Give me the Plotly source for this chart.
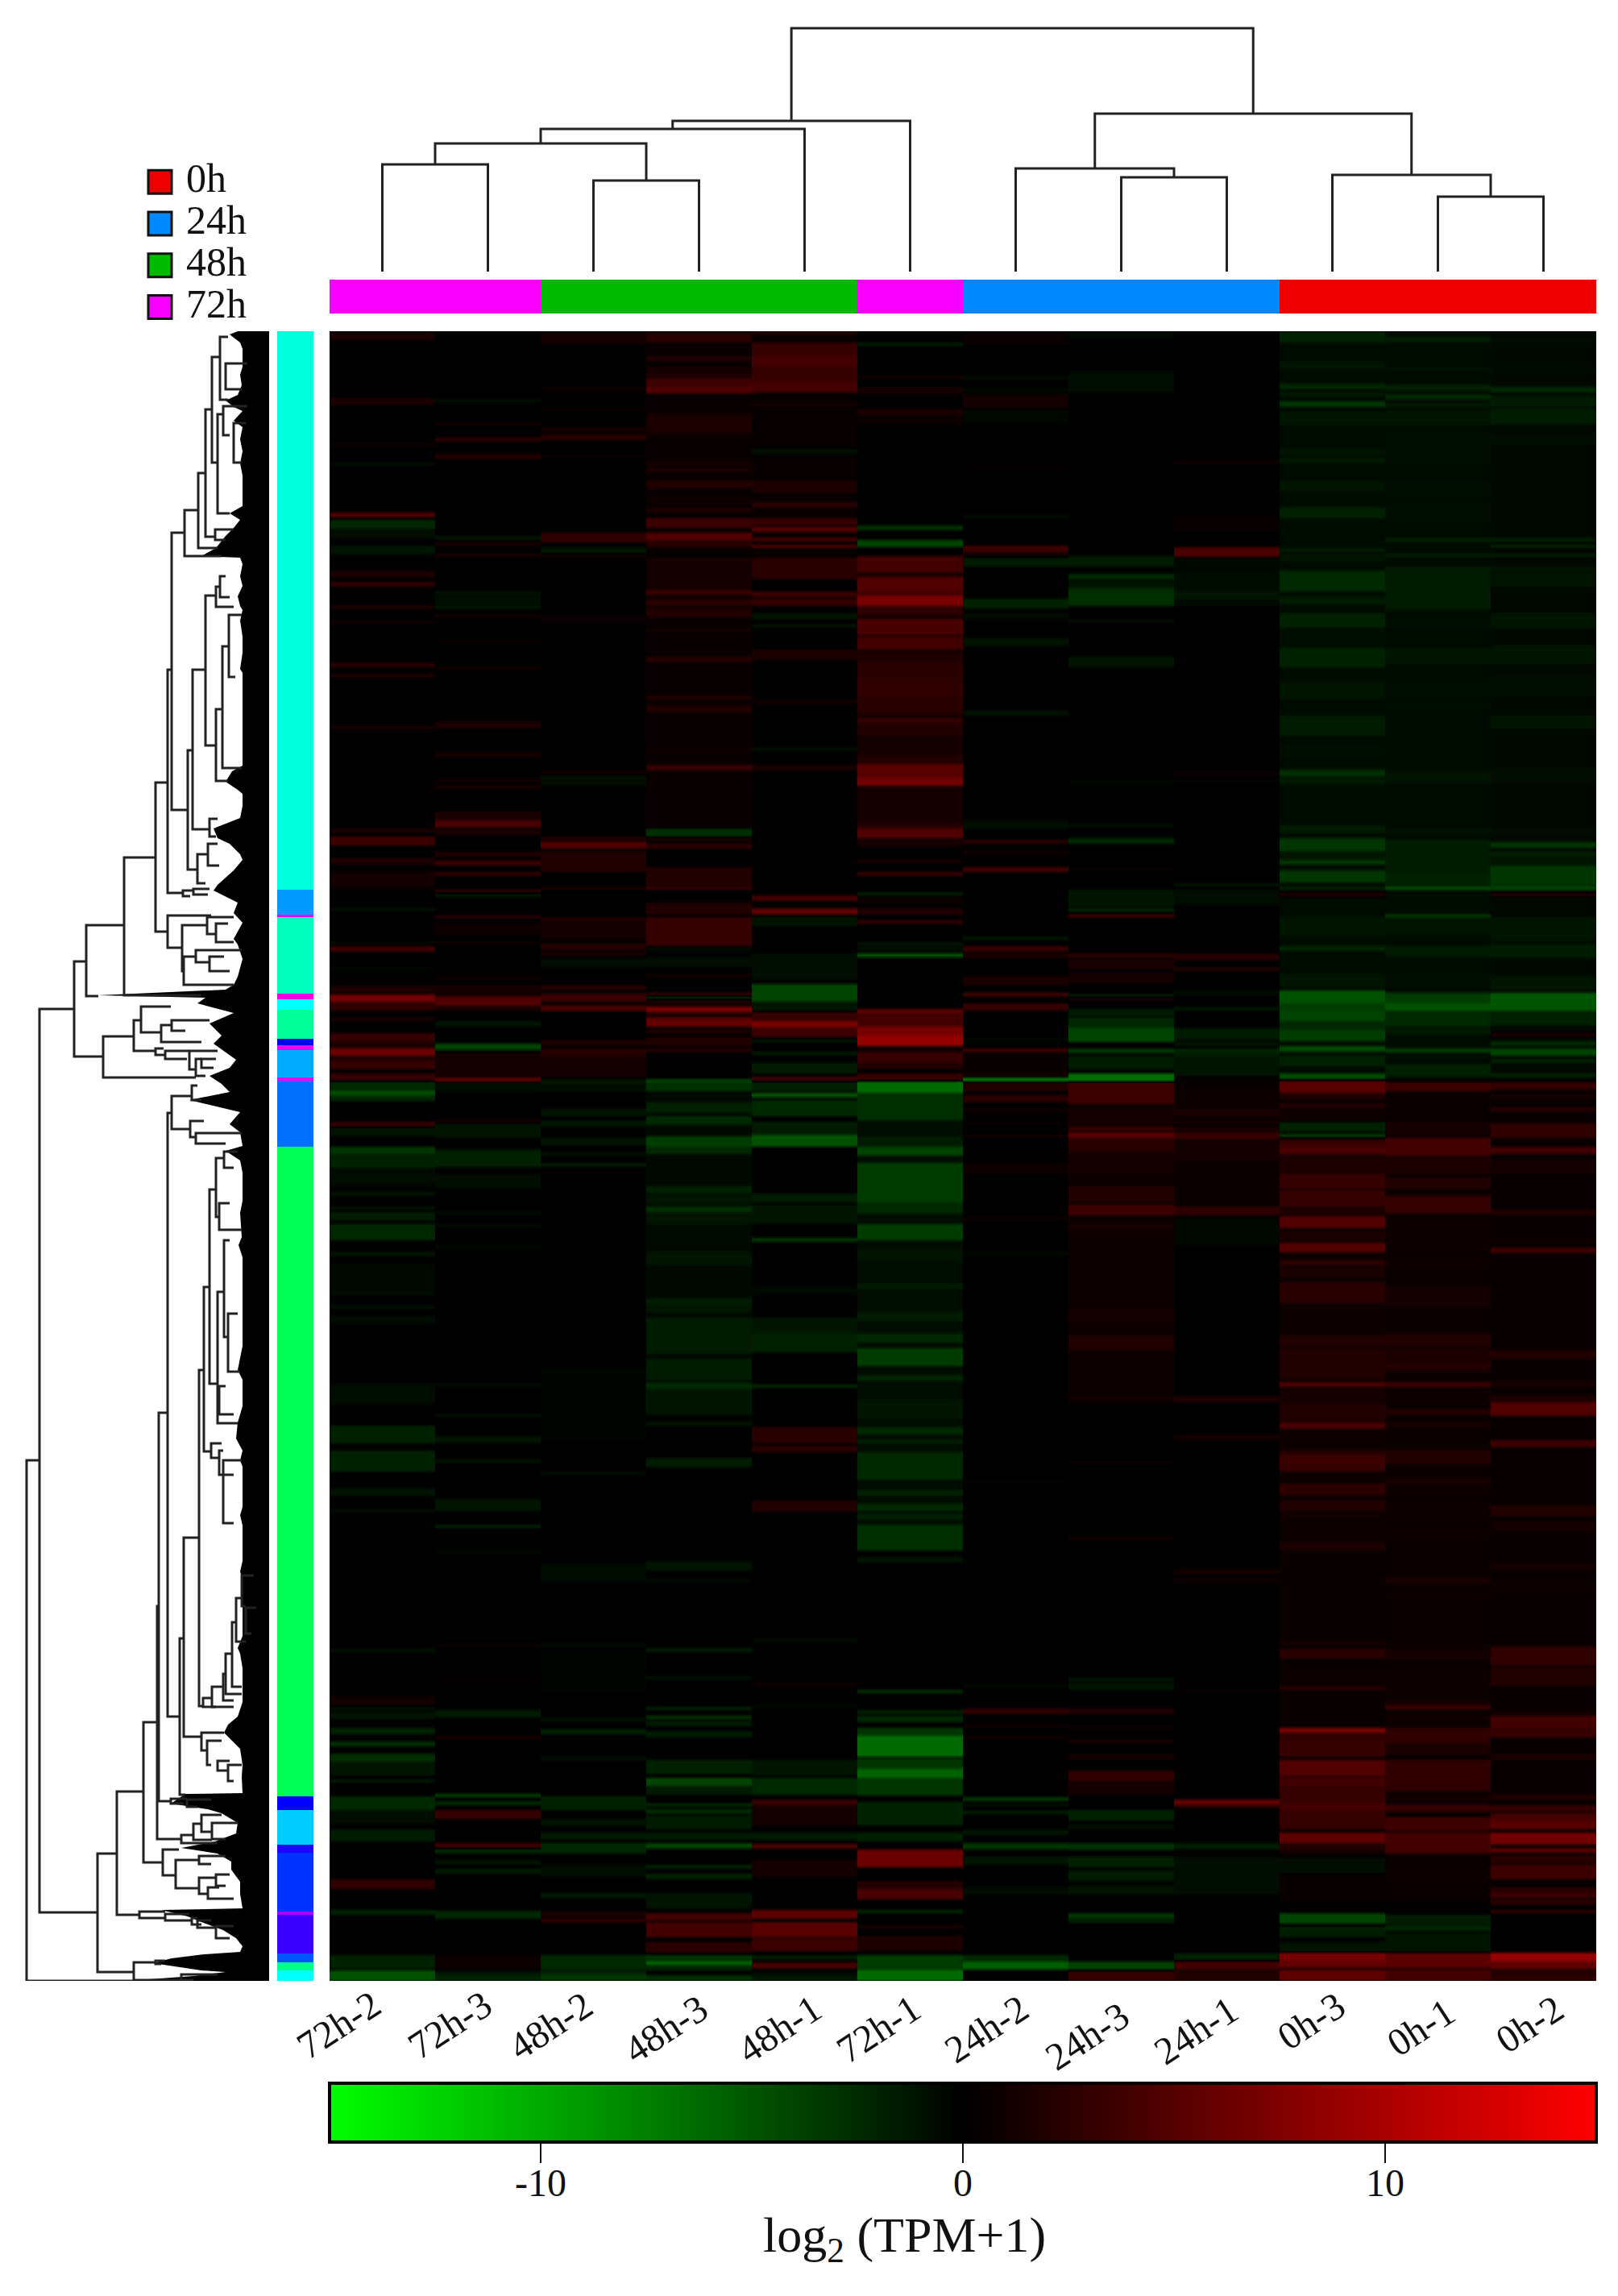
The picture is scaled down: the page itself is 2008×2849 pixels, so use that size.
"""Clustered expression heatmap: sample and gene dendrograms, group bars, log2(TPM+1) colour key."""
import numpy as np
import plotly.graph_objects as go

W, H = 2008, 2849
PAGE_MARGIN = 8  # the browser's default body margin around the plot div
FIG_W, FIG_H = W - 2 * PAGE_MARGIN, H - 2 * PAGE_MARGIN
FONT = "Liberation Serif"
VALUE_CALIBRATION = 0.78  # band values were read by eye and ran high against the colour key
LEAF_TIP_X = 301  # thin white gaps between leaves close up beyond this x

COLUMNS = ["72h-2", "72h-3", "48h-2", "48h-3", "48h-1", "72h-1",
           "24h-2", "24h-3", "24h-1", "0h-3", "0h-1", "0h-2"]
GROUP_LABELS = ["0h", "24h", "48h", "72h"]
GROUP_COLORS = ["#EE0000", "#0088FF", "#00BB00", "#F800FF"]
COLUMN_GROUP = [3, 3, 2, 2, 2, 3, 1, 1, 1, 0, 0, 0]

# label centres, they do not sit evenly under the columns
LABEL_X = [420, 558, 683, 826, 967, 1090, 1224, 1349, 1484, 1627, 1763, 1898]
LABEL_Y = [2512, 2512, 2513, 2517, 2517, 2517, 2517, 2526, 2519, 2507, 2515, 2511]
KEY_TICKS = [-10, 0, 10]
KEY_TICK_TEXT = ["-10", "0", "10"]

# sample tree: (height, left pos, left height, right pos, right height)
SAMPLE_TREE = [
    (133, 0.5, 0, 1.5, 0), (113, 2.5, 0, 3.5, 0), (159, 1, 133, 3, 113),
    (177, 2, 159, 4.5, 0), (187, 3.25, 177, 5.5, 0),
    (117, 7.5, 0, 8.5, 0), (128, 6.5, 0, 8, 117),
    (93, 10.5, 0, 11.5, 0), (120, 9.5, 0, 11, 93),
    (196, 7.25, 128, 10.25, 120), (302, 4.375, 187, 8.75, 196),
]

# gene tree: (x, top row, top child x, bottom row, bottom child x)
GENE_TREE = [
    (33, 1812, 49, 2458, 166), (49, 1252, 92, 2373, 121), (92, 1193, 107, 1311, 128),
    (107, 1148, 154, 1236, 122), (154, 1064, 193, 1235, 250), (193, 971, 208, 1156, 208),
    (208, 831, 213, 1108, 227), (213, 661, 229, 1005, 233), (229, 633, 246, 690, 275),
    (246, 587, 255, 680, 270), (255, 508, 263, 666, 267), (263, 443, 273, 574, 270),
    (273, 418, 283, 496, 283), (280, 451, 307, 483, 300), (270, 514, 277, 637, 285),
    (277, 504, 307, 540, 285), (290, 525, 305, 574, 300), (267, 657, 290, 670, 280),
    (233, 931, 239, 1079, 245), (239, 831, 255, 1029, 260), (255, 739, 268, 925, 268),
    (268, 728, 273, 753, 290), (273, 715, 280, 741, 285), (268, 880, 276, 969, 283),
    (276, 802, 285, 953, 300), (284, 763, 300, 840, 292), (260, 1016, 270, 1038, 268),
    (245, 1060, 258, 1096, 255), (258, 1047, 270, 1074, 272),
    (208, 1136, 262, 1176, 226), (226, 1148, 257, 1205, 228), (228, 1187, 243, 1222, 290),
    (243, 1179, 300, 1194, 260), (260, 1187, 278, 1205, 285), (257, 1138, 290, 1159, 268),
    (268, 1146, 283, 1169, 290), (227, 1105, 240, 1112, 236), (240, 1103, 260, 1110, 258),
    (128, 1286, 166, 1337, 243), (166, 1266, 175, 1304, 193), (175, 1249, 212, 1281, 200),
    (200, 1272, 213, 1293, 250), (213, 1266, 260, 1279, 230), (193, 1301, 203, 1309, 205),
    (205, 1304, 235, 1314, 232), (235, 1304, 270, 1327, 243), (243, 1314, 250, 1335, 255),
    (250, 1314, 268, 1325, 265),
    (121, 2300, 145, 2447, 166), (145, 2223, 178, 2376, 173), (178, 2137, 195, 2311, 202),
    (195, 1993, 197, 2282, 225), (197, 1753, 208, 2235, 212), (208, 1381, 213, 2130, 223),
    (213, 1360, 238, 1401, 236), (238, 1347, 245, 1365, 250), (236, 1391, 253, 1411, 243),
    (243, 1406, 300, 1419, 280), (223, 2033, 228, 2227, 230), (228, 1908, 247, 2155, 250),
    (247, 1700, 253, 2117, 252), (253, 1597, 260, 1801, 262), (260, 1476, 268, 1717, 270),
    (268, 1437, 278, 1510, 272), (278, 1429, 295, 1449, 290), (272, 1493, 285, 1526, 300),
    (270, 1603, 278, 1766, 295), (278, 1539, 285, 1659, 283), (283, 1630, 295, 1702, 298),
    (272, 1720, 280, 1755, 290), (262, 1791, 275, 1809, 272), (272, 1800, 277, 1830, 290),
    (277, 1812, 300, 1890, 290),
    (252, 2107, 263, 2118, 268), (263, 2093, 277, 2118, 290), (277, 2077, 280, 2110, 290),
    (280, 2052, 288, 2102, 300), (288, 2013, 293, 2093, 300), (293, 1983, 300, 2037, 305),
    (300, 1955, 315, 1993, 305), (305, 1995, 318, 2027, 312),
    (250, 2150, 278, 2172, 257), (257, 2160, 275, 2190, 262), (270, 2185, 285, 2197, 283),
    (283, 2190, 300, 2210, 290), (212, 2232, 232, 2238, 228), (232, 2233, 262, 2242, 245),
    (202, 2295, 222, 2327, 218), (218, 2308, 247, 2343, 247), (247, 2303, 280, 2313, 262),
    (247, 2330, 268, 2350, 258), (268, 2326, 285, 2340, 280), (258, 2342, 272, 2356, 290),
    (225, 2277, 240, 2287, 270), (240, 2263, 250, 2283, 263), (250, 2252, 275, 2273, 263),
    (263, 2262, 295, 2282, 280), (173, 2372, 205, 2380, 205), (205, 2375, 235, 2383, 238),
    (238, 2380, 245, 2388, 250), (245, 2383, 262, 2392, 268), (268, 2390, 290, 2405, 285),
    (166, 2435, 193, 2457, 225), (193, 2433, 205, 2437, 200), (225, 2450, 270, 2457, 240),
]

# left edge of the solid black mass of gene tree leaves: (row, x)
LEAF_EDGE = [
    (411, 295), (415, 285), (425, 298), (433, 303), (445, 306), (455, 303), (465, 298), (478, 300),
    (490, 295), (497, 280), (505, 290), (510, 302), (522, 290), (530, 305), (545, 298), (560, 303),
    (575, 298), (590, 308), (600, 303), (615, 306), (628, 305), (637, 285), (645, 298), (655, 290),
    (665, 280), (680, 268), (690, 250), (692, 298), (700, 303), (715, 298), (727, 303), (740, 295),
    (752, 298), (757, 306), (770, 298), (790, 308), (810, 303), (830, 298), (835, 306), (860, 308),
    (880, 303), (900, 303), (920, 306), (940, 308), (950, 305), (957, 288), (970, 280), (980, 295),
    (985, 308), (1000, 308), (1015, 298), (1028, 265), (1040, 270), (1047, 285), (1060, 298),
    (1067, 303), (1080, 290), (1098, 270), (1105, 265), (1120, 295), (1133, 290), (1145, 308),
    (1165, 290), (1172, 295), (1190, 303), (1212, 295), (1222, 290), (1228, 280), (1235, 122),
    (1238, 255), (1245, 245), (1257, 290), (1270, 260), (1285, 275), (1295, 265), (1315, 293),
    (1325, 285), (1335, 260), (1345, 275), (1355, 285), (1365, 235), (1380, 298), (1395, 285),
    (1405, 298), (1422, 302), (1428, 280), (1440, 298), (1455, 303), (1470, 306), (1490, 305),
    (1505, 298), (1535, 300), (1545, 296), (1560, 306), (1575, 306), (1600, 305), (1620, 304),
    (1650, 305), (1670, 305), (1700, 295), (1712, 305), (1730, 305), (1745, 308), (1765, 295),
    (1785, 293), (1800, 303), (1812, 298), (1820, 303), (1845, 305), (1870, 304), (1880, 298),
    (1893, 302), (1913, 302), (1925, 308), (1937, 302), (1950, 298), (1960, 305), (1980, 306),
    (2005, 308), (2017, 310), (2030, 303), (2045, 295), (2052, 298), (2070, 304), (2077, 303),
    (2090, 303), (2100, 304), (2112, 303), (2130, 295), (2140, 283), (2150, 278), (2170, 298),
    (2190, 304), (2205, 300), (2225, 303), (2226, 230), (2238, 212), (2245, 258), (2250, 275),
    (2262, 295), (2275, 293), (2285, 267), (2293, 225), (2300, 270), (2310, 287), (2320, 287),
    (2335, 298), (2350, 298), (2368, 304), (2370, 200), (2378, 233), (2385, 250), (2395, 277),
    (2405, 293), (2415, 304), (2422, 298), (2425, 253), (2430, 213), (2436, 190), (2445, 250),
    (2447, 280), (2452, 240), (2457, 170), (2458, 166),
]

# gene cluster colour bar, top to bottom
CLUSTER_ROW_EDGES = [411, 1104, 1135, 1138, 1233, 1240, 1253, 1289, 1297, 1303, 1337, 1341, 1423,
                     2229, 2246, 2289, 2299, 2372, 2376, 2424, 2435, 2445, 2458]
CLUSTER_COLORS = ["#00FFDD", "#0099FF", "#F000F0", "#00FFBB", "#F000E0", "#00FFFF", "#00FF99",
                  "#0000FF", "#F000F0", "#00AAFF", "#F000F0", "#0070FF", "#00FF55", "#0000FF",
                  "#00CCFF", "#2000FF", "#0033FF", "#AA00FF", "#3A00FF", "#0055FF", "#00FF88",
                  "#00FFFF"]

# heatmap bands per column: (first rank, last rank, log2 value); later bands overwrite earlier
BANDS_72H_2 = [
    (2, 11, 2), (83, 92, 2), (140, 143, 1.5), (164, 166, -1.5), (225, 231, 6), (234, 245, -3),
    (245, 257, -1), (266, 277, -1.5), (297, 306, 2), (311, 317, 3.5), (341, 344, 3), (360, 362, 2),
    (412, 417, 3.5), (425, 429, 2.5), (489, 495, 1.5), (618, 621, 3), (627, 638, 4.5), (653, 662, 2),
    (671, 688, 1.5), (689, 693, 1), (716, 719, -1.5), (758, 760, -1.5), (763, 770, 4.5), (790, 792, -1),
    (812, 821, 2), (823, 832, 8.5), (832, 843, 3.5), (852, 855, 2.5), (871, 881, 4), (881, 890, 2),
    (890, 899, 8), (899, 905, 2), (905, 916, 4), (921, 930, 4), (931, 943, -3), (943, 948, -6),
    (948, 955, -3), (981, 987, 4), (988, 999, -1.5), (1012, 1021, -4), (1021, 1039, -2.5),
    (1041, 1059, -1), (1068, 1073, -1.5), (1086, 1090, -1.5), (1093, 1104, -2), (1108, 1128, -3),
    (1142, 1148, -1.5), (1157, 1193, -0.7), (1193, 1195, -1.5), (1209, 1213, -1.5), (1222, 1231, -1),
    (1307, 1331, -1), (1358, 1380, -2.5), (1389, 1415, -2.5), (1436, 1445, -1.5), (1462, 1465, -1.5),
    (1635, 1639, -1.5), (1694, 1705, 1.5), (1707, 1711, -1.5), (1713, 1722, -1.5), (1733, 1741, -2.5),
    (1750, 1756, -3.5), (1765, 1775, -3.5), (1775, 1792, -1.5), (1797, 1801, -2), (1818, 1835, -3),
    (1835, 1852, -1), (1859, 1874, -2), (1921, 1933, 3.5), (1959, 1965, -2.5), (2015, 2032, -2.5),
    (2034, 2047, -6),
]
BANDS_72H_3 = [
    (85, 88, -1.5), (114, 117, 2), (132, 137, 3), (152, 159, 2.5), (255, 258, -2.5), (261, 266, 1.5),
    (277, 279, 4), (323, 326, -2), (328, 341, -1), (342, 344, -3), (352, 355, 2), (384, 386, 1.5),
    (417, 419, 2), (484, 493, 2), (522, 529, 1.5), (556, 560, 1.5), (564, 568, 2), (596, 607, 2),
    (607, 616, 5.5), (618, 625, 2), (645, 653, 2), (657, 663, 4.5), (671, 676, 3.5),
    (693, 696, 4), (698, 702, -2), (725, 729, 3), (734, 749, 1), (758, 760, 2), (800, 805, 1),
    (812, 823, 1.5), (825, 837, 6), (837, 843, 2), (856, 863, -1.5), (884, 892, -5), (896, 925, 1.5),
    (926, 931, 7), (932, 943, -1), (979, 981, 3), (983, 1001, -1.5), (1015, 1019, -2), (1019, 1037, -2.5),
    (1046, 1064, -1), (1093, 1095, -1.5), (1108, 1112, -1), (1135, 1137, -1.5), (1307, 1309, -1.5),
    (1344, 1347, -1.5), (1371, 1380, -1.5), (1400, 1404, -1.5), (1449, 1464, -1.5), (1481, 1485, -2.5),
    (1514, 1516, -1), (1628, 1632, 1), (1670, 1672, 1), (1711, 1720, -2), (1743, 1748, 1.5),
    (1815, 1819, -5), (1824, 1829, -3), (1835, 1846, 4), (1876, 1882, 4.5), (1883, 1889, -3),
    (1897, 1903, -1.5), (1908, 1914, -2), (1960, 1970, -3), (2015, 2032, 1), (2036, 2042, -2),
    (2042, 2047, -3),
]
BANDS_48H_2 = [
    (2, 16, 1.5), (69, 74, 1), (96, 98, 1.5), (119, 125, 1.5), (128, 135, 3), (154, 156, 1.5),
    (250, 262, 3.5), (268, 277, -1.5), (277, 279, 3.5), (355, 359, 1.5), (546, 549, 2), (551, 564, -1),
    (627, 631, 2.5), (633, 642, 6), (645, 671, 2.5), (689, 693, 2), (727, 734, 2), (734, 756, 1.5),
    (760, 767, 3), (768, 776, 1.5), (778, 789, -1), (812, 818, 3), (822, 832, 4.5), (836, 844, 5),
    (879, 887, 2), (890, 899, 3), (899, 925, 1.5), (928, 937, -1.5), (939, 943, -1.5), (965, 974, -1.5),
    (979, 988, -1.5), (1001, 1010, -1.5), (1019, 1023, -1.5), (1032, 1037, -2), (1287, 1376, -0.4),
    (1415, 1419, -1), (1530, 1551, -0.8), (1628, 1632, -1), (1637, 1688, -0.4), (1720, 1726, -1),
    (1735, 1741, -2.5), (1769, 1773, -1.5), (1818, 1835, -2.5), (1846, 1854, -1.5), (1863, 1872, -2),
    (1876, 1889, -3), (1903, 1918, -1), (1938, 1944, -2), (1961, 1968, 2), (1970, 1974, 4),
    (2015, 2032, -3), (2032, 2038, -2), (2038, 2047, -4),
]
BANDS_48H_3 = [
    (0, 620, 0.6), (930, 1300, -0.7),
    (2, 14, 3), (31, 37, 2.5), (45, 49, 2), (51, 56, 2.5), (58, 69, 4.5), (69, 77, 6), (103, 127, 2),
    (163, 167, 2), (170, 174, 2.5), (185, 195, 2.5), (208, 212, 1.5), (219, 224, 2.5), (232, 244, 4.5),
    (250, 259, 6), (259, 268, 3), (278, 280, -3), (279, 323, 1.5), (321, 328, 4), (332, 341, 3),
    (343, 355, 2.5), (369, 372, 2), (404, 410, 3), (453, 457, 3), (464, 473, 2.5), (518, 521, 1.5),
    (538, 545, 4), (564, 566, 1.5), (617, 627, -3.5), (629, 633, 2), (636, 642, 3.5), (665, 688, 2.5),
    (689, 693, 4.5), (709, 724, 2.5), (727, 763, 4), (765, 769, -1), (776, 789, -1), (798, 801, 2),
    (821, 824, 5), (825, 830, -3), (829, 836, 2), (838, 845, 9), (845, 852, 2), (852, 863, 7.5),
    (865, 872, 2), (876, 887, 2.5), (890, 894, 3), (928, 932, -5), (932, 943, -3.5), (957, 970, -2.5),
    (974, 985, -3), (999, 1012, -4.5), (1012, 1021, -3), (1061, 1070, -2.5), (1072, 1083, -1.5),
    (1086, 1093, -3.5), (1093, 1108, -1.5), (1117, 1128, -0.8), (1142, 1159, -1.5), (1200, 1211, -2),
    (1213, 1217, -2), (1224, 1269, -2), (1275, 1302, -2), (1304, 1313, -3), (1313, 1345, -1.5),
    (1353, 1358, -1.5), (1398, 1410, -2), (1526, 1538, -1.5), (1549, 1551, -1.5), (1634, 1639, -2),
    (1669, 1673, -1.5), (1707, 1711, -2.5), (1718, 1722, -4), (1724, 1731, -2), (1737, 1745, -2),
    (1773, 1790, -2.5), (1795, 1805, -5), (1805, 1816, -2), (1827, 1830, -4), (1833, 1840, -3),
    (1842, 1859, -2), (1863, 1872, -2), (1876, 1883, -5), (1903, 1908, -2.5), (1914, 1921, -2.5),
    (1938, 1957, -1.5), (1963, 1972, 5), (1974, 1993, 5), (1999, 2012, 3), (2015, 2021, -4),
    (2022, 2027, -7.5), (2027, 2034, -3), (2040, 2047, -3.5),
]
BANDS_48H_1 = [
    (0, 280, 0.5),
    (0, 4, 3), (14, 31, 4), (31, 43, 5), (43, 63, 4), (63, 76, 5), (89, 94, 1.5), (145, 154, -1),
    (185, 201, 2), (212, 219, 3), (232, 241, 4), (243, 249, 6.5), (256, 261, 5), (265, 269, 6),
    (281, 308, 3), (323, 330, 4.5), (332, 341, 4), (350, 357, -1.5), (364, 367, -2), (395, 408, 2),
    (457, 462, 1.5), (517, 520, -1.5), (538, 545, 2), (700, 707, 5), (716, 724, 7), (727, 730, -2),
    (731, 738, -1.5), (772, 805, -1), (810, 832, -5), (832, 844, -1.5), (845, 856, 4), (856, 864, 9),
    (864, 876, 4.5), (879, 882, -2), (894, 898, -2), (908, 921, -2), (925, 930, 5), (932, 943, -2.5),
    (945, 951, -6), (954, 974, -3), (981, 997, -2), (997, 1012, -6), (1070, 1081, -2), (1084, 1108, -1.5),
    (1125, 1130, -4), (1186, 1195, -0.8), (1224, 1244, -1.5), (1244, 1267, -2.5), (1307, 1311, -3),
    (1360, 1380, 3), (1383, 1391, 3), (1451, 1465, 2.5), (1622, 1626, -1), (1677, 1680, 1.5),
    (1705, 1707, -1.5), (1773, 1792, -1.5), (1795, 1816, -3), (1822, 1829, 4), (1829, 1854, 1.5),
    (1863, 1872, -2), (1877, 1883, 5.5), (1897, 1918, 1.5), (1959, 1970, 7), (1974, 1993, 6.5),
    (1994, 2010, 4.5), (2015, 2021, -2), (2024, 2032, 5), (2036, 2042, -1), (2042, 2047, -2),
]
BANDS_72H_1 = [
    (279, 640, 1.5), (930, 1500, -1),
    (14, 18, -2), (56, 59, 2), (69, 78, 1.5), (96, 105, 2), (107, 116, 1), (241, 247, -3.5), (259, 268, -5),
    (279, 299, 5), (299, 305, 2), (305, 323, 6), (323, 328, 4.5), (328, 341, 9), (341, 352, 3.5),
    (357, 377, 5.5), (379, 395, 5), (399, 408, 2.5), (410, 431, 3), (431, 455, 3.5), (455, 475, 3),
    (480, 486, 4), (486, 502, 2.5), (507, 522, 1.5), (526, 537, 2.5), (537, 554, 6.5), (554, 564, 8.5),
    (611, 616, 3), (617, 629, 6), (656, 660, 2), (671, 676, 4), (696, 701, -2), (702, 711, 1),
    (716, 724, 2.5), (730, 736, 3), (758, 763, -1.5), (765, 769, -1.5), (772, 777, -6), (841, 846, 7),
    (846, 863, 5), (863, 874, 9), (874, 887, 11), (887, 894, 1), (894, 908, 4), (908, 916, 2.5),
    (921, 930, 4), (931, 945, -8), (945, 957, -3.5), (957, 979, -3.5), (999, 1012, -2), (1012, 1023, -5),
    (1032, 1059, -4.5), (1059, 1081, -4.5), (1081, 1095, -3), (1108, 1128, -4.5), (1139, 1153, -1.5),
    (1182, 1189, -2), (1202, 1206, -1), (1217, 1229, -2), (1244, 1255, -3), (1262, 1284, -4.5),
    (1296, 1302, -3), (1327, 1349, -1.5), (1360, 1369, -3), (1376, 1380, -2.5), (1391, 1412, -3),
    (1412, 1425, -3), (1438, 1445, -2.5), (1455, 1464, -3), (1468, 1474, -2.5), (1481, 1513, -3.5),
    (1521, 1528, -1.5), (1686, 1690, -3.5), (1711, 1716, -2.5), (1718, 1726, -3), (1733, 1743, -4),
    (1743, 1769, -8), (1771, 1784, -4), (1784, 1795, -7.5), (1795, 1812, -4), (1812, 1817, -4),
    (1825, 1854, -2.5), (1863, 1874, -2.5), (1884, 1906, 8), (1923, 1933, 2.5), (1933, 1946, 5.5),
    (1959, 1963, -3), (1978, 1982, 2), (1991, 2010, 2), (2015, 2034, -4.5), (2034, 2047, -8),
]
BANDS_24H_2 = [
    (2, 16, 0.8), (56, 60, -1), (72, 76, -0.8), (78, 96, 1.5), (96, 114, -0.5), (169, 171, 1),
    (228, 232, -1), (266, 274, 4.5), (274, 279, 1.5), (281, 292, -2), (332, 344, -2.5), (350, 357, -1),
    (381, 390, -1.5), (471, 477, -1.5), (607, 618, -1), (631, 636, 3), (645, 649, 1.5), (665, 671, 5),
    (751, 756, -1.5), (763, 770, 4), (772, 778, 2), (800, 812, 2), (821, 825, 6), (834, 843, 4),
    (876, 883, -0.5), (890, 894, 5), (894, 921, 0.7), (921, 925, 2), (926, 931, -8.5), (932, 943, 2.5),
    (948, 957, 3), (965, 968, 1.5), (981, 983, 1.5), (997, 1000, 2), (1032, 1046, 1), (1099, 1104, 1),
    (1142, 1146, -0.8), (1427, 1430, -0.5), (1679, 1682, -0.7), (1709, 1716, 3.5), (1730, 1733, 1.5),
    (1743, 1748, 1), (1819, 1824, -4), (1827, 1830, -1.5), (1836, 1840, -2.5), (1859, 1866, -1.5),
    (1876, 1884, -4), (1893, 1903, -1.5), (1931, 1940, -1), (2015, 2023, -3), (2023, 2033, -7),
]
BANDS_24H_3 = [
    (932, 1330, 1),
    (2, 7, -1), (51, 76, -1), (279, 292, -2), (301, 308, -3), (310, 319, -1.5), (319, 341, -3.5),
    (358, 361, -1.5), (404, 417, -1.5), (558, 560, -1), (612, 615, -1.5), (629, 636, -3), (666, 669, 1),
    (693, 714, -1.5), (716, 720, -3), (724, 727, 6), (772, 778, 3), (780, 792, 2), (796, 809, 1.5),
    (823, 826, -3), (827, 830, 2.5), (841, 850, -2), (852, 864, -3), (864, 882, -5), (890, 896, -4),
    (899, 916, -2), (921, 931, -8), (932, 959, 4.5), (965, 983, 1.5), (987, 992, 4), (994, 1001, 6.5),
    (1001, 1019, 3), (1021, 1032, 1.5), (1032, 1046, 1.5), (1061, 1081, 2.5), (1084, 1097, 4.5),
    (1108, 1113, 2), (1118, 1122, 1.5), (1157, 1161, 1), (1215, 1231, 1.5), (1246, 1264, 2.5),
    (1311, 1322, 1), (1322, 1325, 2), (1402, 1406, 1), (1496, 1500, 1.5), (1671, 1675, -2),
    (1677, 1686, -1.5), (1709, 1716, 2.5), (1731, 1735, 1), (1748, 1752, 2), (1765, 1773, 1.5),
    (1786, 1799, 3.5), (1799, 1816, 1.5), (1835, 1848, -2.5), (1852, 1859, -1), (1876, 1885, -3.5),
    (1893, 1906, -2.5), (1910, 1923, -2), (1929, 1940, -1.5), (1963, 1970, -4), (1971, 1975, -2.5),
    (2023, 2033, -5), (2035, 2047, 4),
]
BANDS_24H_1 = [
    (932, 1100, 0.8),
    (161, 164, 1.5), (230, 248, 0.7), (268, 280, 5.5), (281, 297, -0.5), (297, 341, -0.8), (323, 332, -1.5),
    (547, 551, 1), (558, 560, -0.5), (685, 689, -1.5), (693, 711, -1), (773, 780, 3), (789, 794, 2.5),
    (818, 823, -1), (838, 843, -1.5), (865, 879, -2), (881, 887, -1.5), (890, 899, -2.5), (899, 925, -1.5),
    (925, 929, 1), (945, 952, 1), (965, 974, 2), (979, 983, 1.5), (988, 992, 2), (994, 1003, 4),
    (1006, 1028, 1.5), (1086, 1097, 3.5), (1099, 1135, -0.5), (1322, 1329, 2.5), (1369, 1376, 1.5),
    (1536, 1543, 1.5), (1547, 1553, 1), (1686, 1689, 1), (1822, 1829, 7.5), (1829, 1833, 2),
    (1876, 1884, -2), (1887, 1889, 1), (1893, 1940, -1), (2013, 2021, -2.5), (2023, 2033, 5),
    (2034, 2047, 2.5),
]
BANDS_0H_3 = [
    (0, 930, -0.8), (930, 1500, 1), (1500, 1950, 0.7),
    (0, 14, -2.5), (38, 47, -1.5), (65, 72, -3), (76, 80, -2), (87, 94, -4), (100, 116, -1.5),
    (145, 154, -1.5), (158, 163, -2), (185, 199, -1.5), (219, 232, -2.5), (269, 274, -2), (277, 286, -1.5),
    (297, 323, -3), (330, 339, -2), (350, 368, -2.5), (368, 390, -1), (393, 417, -2.5), (435, 457, -1.5),
    (477, 502, -2), (513, 529, -1), (544, 553, -3.5), (555, 562, -2), (613, 622, -2), (629, 645, -4),
    (645, 656, -1.5), (656, 662, -4), (669, 684, -4), (689, 693, -2.5), (696, 702, 2), (727, 751, -1.5),
    (763, 769, -3), (798, 814, -1.5), (818, 834, -6), (834, 843, -4.5), (843, 856, -5), (856, 867, -3),
    (867, 881, -4.5), (887, 894, -5.5), (899, 912, -2.5), (921, 928, -5.5), (930, 945, 6.5), (945, 952, 2.5),
    (959, 963, 3), (981, 994, -2.5), (996, 1000, -5), (1003, 1012, 4), (1012, 1021, 5.5), (1021, 1046, 2),
    (1046, 1064, 4), (1066, 1086, 4), (1086, 1097, 2), (1098, 1113, 6), (1117, 1128, 2), (1131, 1143, 6),
    (1153, 1159, 3.5), (1162, 1173, 2), (1180, 1206, 3), (1246, 1260, 2.5), (1262, 1300, 2.5),
    (1304, 1310, 6), (1311, 1331, 1.5), (1331, 1353, 2.5), (1354, 1362, 5.5), (1389, 1393, 3),
    (1393, 1415, 4), (1400, 1404, 5), (1430, 1444, 3.5), (1451, 1464, 2.5), (1468, 1472, 1.5),
    (1502, 1513, 2), (1624, 1630, 1.5), (1635, 1647, 3), (1662, 1675, 1), (1681, 1686, 3),
    (1709, 1726, 0.7), (1733, 1739, 9), (1739, 1748, 3.5), (1748, 1769, 4), (1773, 1792, 6),
    (1792, 1816, 4), (1797, 1805, 5), (1816, 1827, 4), (1827, 1835, 5), (1835, 1859, 4), (1863, 1876, 7),
    (1876, 1886, 2.5), (1893, 1914, -1), (1963, 1976, -5), (1980, 1985, -2.5), (1985, 1993, -2),
    (1999, 2012, -1.5), (2012, 2021, 9), (2021, 2030, 7.5), (2030, 2034, 3), (2034, 2047, 7),
]
BANDS_0H_1 = [
    (0, 930, -0.8), (930, 1950, 0.8),
    (7, 14, -2), (45, 49, -1.5), (67, 74, -2.5), (78, 85, -3), (89, 94, -2), (98, 116, -1.5), (123, 167, -1),
    (185, 203, -1), (212, 239, -1), (257, 261, -2.5), (277, 279, -3.5), (292, 301, -2), (301, 346, -2),
    (359, 368, -1), (393, 413, -1.5), (435, 453, -1), (462, 471, -1), (529, 533, -0.8), (547, 560, -1.5),
    (618, 623, -1.5), (631, 671, -2), (671, 688, -2.5), (689, 693, -6), (724, 727, -5), (727, 747, -1.5),
    (763, 776, -2), (798, 814, -1), (821, 834, -4.5), (834, 843, -6), (843, 863, -3), (865, 872, -2),
    (890, 895, -4.5), (895, 903, -1), (910, 925, -2.5), (932, 943, 4.5), (981, 997, 1.5), (1001, 1023, 5),
    (1023, 1046, 2), (1050, 1064, 2.5), (1073, 1095, 4), (1099, 1135, 1), (1148, 1159, 1), (1186, 1211, 1.5),
    (1244, 1260, 2.5), (1262, 1291, 2), (1282, 1286, 3), (1304, 1310, 4.5), (1313, 1327, 1), (1338, 1344, 3),
    (1353, 1362, 1.5), (1389, 1406, 2.5), (1423, 1430, 2), (1432, 1445, 1), (1453, 1474, 1), (1487, 1496, 1),
    (1547, 1553, 2), (1568, 1571, 1), (1628, 1630, 1), (1635, 1650, 1.5), (1662, 1688, 1), (1699, 1705, 1.5),
    (1705, 1710, 4.5), (1718, 1722, 1.5), (1733, 1752, 3.5), (1752, 1765, 2), (1773, 1812, 3.5),
    (1816, 1824, 1.5), (1828, 1837, 4), (1844, 1861, 4.5), (1863, 1889, 5), (1912, 1921, 1),
    (1965, 1980, -2), (1980, 1985, -3), (1987, 2012, -1.5), (2012, 2030, 7), (2030, 2034, 3.5), (2034, 2047, 5),
]
BANDS_0H_2 = [
    (0, 930, -0.6), (930, 1950, 0.6),
    (9, 14, -1), (43, 51, -0.8), (69, 76, -3), (80, 94, -2), (96, 116, -2), (127, 141, -1), (257, 261, -2.5),
    (265, 268, -3), (277, 279, -3.5), (292, 299, -1.5), (301, 317, -1.5), (350, 368, -1.5), (390, 413, -1.5),
    (426, 453, -1), (477, 493, -1.5), (542, 560, -1), (618, 624, -1), (634, 641, -4), (645, 653, -2),
    (653, 662, -1.5), (663, 688, -4), (689, 693, -6), (698, 701, 4), (727, 756, -1.5), (760, 778, -2),
    (800, 818, -1.5), (821, 843, -6.5), (843, 856, -2.5), (856, 861, -2.5), (870, 876, 2), (881, 887, -3),
    (890, 899, -5), (903, 908, -2.5), (921, 925, -3), (932, 941, 4), (945, 952, 1.5), (963, 968, 3),
    (983, 1001, 3.5), (1012, 1021, 5), (1028, 1046, 1.5), (1090, 1097, 2.5), (1126, 1130, 1.5), (1137, 1144, 4.5),
    (1264, 1275, 2.5), (1302, 1311, 1.5), (1320, 1329, 2), (1329, 1346, 6), (1376, 1385, 4.5), (1457, 1470, 2.5),
    (1477, 1491, 1.5), (1528, 1536, 1.5), (1551, 1568, 1), (1632, 1656, 3.5), (1658, 1681, 2.5),
    (1711, 1716, 1.5), (1718, 1733, 5), (1733, 1745, 4), (1765, 1773, 2), (1816, 1822, 2.5), (1829, 1837, 4),
    (1839, 1848, 5), (1848, 1859, 6.5), (1863, 1878, 8.5), (1882, 1888, 6.5), (1891, 1901, 3), (1903, 1921, 4.5),
    (1931, 1938, 3), (1938, 1944, 4.5), (1946, 1953, 3), (1959, 1963, 3.5), (2012, 2023, 11), (2023, 2032, 7),
    (2032, 2040, 2.5), (2040, 2047, 3.5),
]
COLUMN_BANDS = [BANDS_72H_2, BANDS_72H_3, BANDS_48H_2, BANDS_48H_3, BANDS_48H_1, BANDS_72H_1,
                BANDS_24H_2, BANDS_24H_3, BANDS_24H_1, BANDS_0H_3, BANDS_0H_1, BANDS_0H_2]

N_RANKS = 2047
z = np.zeros((N_RANKS, len(COLUMNS)))
for col, bands in enumerate(COLUMN_BANDS):
    for start, end, value in bands:
        z[start:end, col] = value * VALUE_CALIBRATION
# the source image is resampled: thin stripes run soft over a few rows
kernel = np.ones(5) / 5
z = np.column_stack([np.convolve(z[:, c], kernel, mode="same") for c in range(z.shape[1])]).round(2)


def box(px_x0, px_x1, px_y0, px_y1):
    """Axis domains from page pixels."""
    return (dict(domain=[(px_x0 - PAGE_MARGIN) / FIG_W, (px_x1 - PAGE_MARGIN) / FIG_W]),
            dict(domain=[1 - (px_y1 - PAGE_MARGIN) / FIG_H, 1 - (px_y0 - PAGE_MARGIN) / FIG_H]))


def paper(px_x, px_y):
    return dict(x=(px_x - PAGE_MARGIN) / FIG_W, y=1 - (px_y - PAGE_MARGIN) / FIG_H, xref="paper", yref="paper")


hidden = dict(visible=False, showgrid=False, zeroline=False, fixedrange=True)
fig = go.Figure()

# heatmap, x/y
xa, ya = box(409, 1981, 411, 2458)
fig.update_layout(xaxis={**hidden, **xa, "range": [0, 12]},
                  yaxis={**hidden, **ya, "range": [N_RANKS, 0]})
key_pos = paper(409, 2585)
fig.add_trace(go.Heatmap(
    z=z.tolist(), x=[i + 0.5 for i in range(12)], y=[i + 0.5 for i in range(N_RANKS)],
    zmin=-15, zmax=15, zsmooth=False, xgap=0, ygap=0,
    colorscale=[[0, "#00FF00"], [0.5, "#000000"], [1, "#FF0000"]],
    colorbar=dict(
        orientation="h", x=key_pos["x"], xanchor="left", y=key_pos["y"], yanchor="top",
        lenmode="pixels", len=1572, thicknessmode="pixels", thickness=73,
        xpad=0, ypad=0, outlinewidth=4, outlinecolor="#000000",
        tickmode="array", tickvals=KEY_TICKS, showticklabels=False,
        ticks="outside", ticklen=24, tickwidth=2, tickcolor="#111111",
    ),
))

# sample tree, x2/y2
xa, ya = box(409, 1981, 20, 337)
fig.update_layout(xaxis2={**hidden, **xa, "range": [0, 12]}, yaxis2={**hidden, **ya, "range": [0, 317]})
sx, sy = [], []
for h, lp, lh, rp, rh in SAMPLE_TREE:
    sx += [lp, lp, rp, rp, None]
    sy += [lh, h, h, rh, None]
fig.add_trace(go.Scatter(x=sx, y=sy, mode="lines", xaxis="x2", yaxis="y2", hoverinfo="skip",
                         line=dict(color="#222222", width=3)))

# sample group bar, x3/y3
xa, ya = box(409, 1981, 347, 389)
fig.update_layout(xaxis3={**hidden, **xa, "range": [0, 12]}, yaxis3={**hidden, **ya, "range": [0, 1]})
fig.add_trace(go.Bar(x=[i + 0.5 for i in range(12)], y=[1] * 12, width=1, xaxis="x3", yaxis="y3",
                     marker=dict(color=[GROUP_COLORS[g] for g in COLUMN_GROUP], line=dict(width=0)),
                     hoverinfo="skip"))

# gene tree, x4/y4
xa, ya = box(8, 334, 411, 2458)
fig.update_layout(xaxis4={**hidden, **xa, "range": [8, 334]}, yaxis4={**hidden, **ya, "range": [2458, 411]})
edge = sorted(LEAF_EDGE)
fig.add_trace(go.Scatter(x=[min(p[1], LEAF_TIP_X) for p in edge] + [334, 334], y=[p[0] for p in edge] + [2458, 411],
                         mode="lines", fill="toself", fillcolor="#000000", line=dict(width=0),
                         xaxis="x4", yaxis="y4", hoverinfo="skip"))
gx, gy = [], []
for x, top, x_top, bottom, x_bottom in GENE_TREE:
    gx += [x_top, x, x, x_bottom, None]
    gy += [top, top, bottom, bottom, None]
fig.add_trace(go.Scatter(x=gx, y=gy, mode="lines", xaxis="x4", yaxis="y4", hoverinfo="skip",
                         line=dict(color="#222222", width=3)))

# gene cluster bar, x5/y5
xa, ya = box(344, 389, 411, 2458)
fig.update_layout(xaxis5={**hidden, **xa, "range": [-0.5, 0.5]}, yaxis5={**hidden, **ya, "range": [2458, 411]})
fig.add_trace(go.Bar(x=[0] * len(CLUSTER_COLORS), base=CLUSTER_ROW_EDGES[:-1],
                     y=np.diff(CLUSTER_ROW_EDGES).tolist(), width=1, xaxis="x5", yaxis="y5",
                     marker=dict(color=CLUSTER_COLORS, line=dict(width=0)), hoverinfo="skip"))

# group legend, x6/y6
xa, ya = box(150, 350, 200, 407)
fig.update_layout(xaxis6={**hidden, **xa, "range": [150, 350]}, yaxis6={**hidden, **ya, "range": [3.5, -0.5]})
fig.add_trace(go.Scatter(x=[198.5] * 4, y=[0, 1, 2, 3], mode="markers", xaxis="x6", yaxis="y6",
                         marker=dict(symbol="square", size=29, color=GROUP_COLORS,
                                     line=dict(color="#111111", width=3)), hoverinfo="skip"))
fig.add_trace(go.Scatter(x=[231] * 4, y=[0, 1, 2, 3], mode="text", text=GROUP_LABELS, xaxis="x6", yaxis="y6",
                         textposition="middle right", hoverinfo="skip",
                         textfont=dict(family=FONT, size=50, color="#111111")))

fig.update_layout(
    width=FIG_W, height=FIG_H, autosize=False, barmode="overlay", bargap=0,
    margin=dict(l=0, r=0, t=0, b=0, pad=0), showlegend=False,
    paper_bgcolor="#FFFFFF", plot_bgcolor="#FFFFFF",
    font=dict(family=FONT, color="#111111"),
)

for label, lx, ly in zip(COLUMNS, LABEL_X, LABEL_Y):
    fig.add_annotation(text=label, **paper(lx, ly), showarrow=False, textangle=-33,
                       xanchor="center", yanchor="middle",
                       font=dict(family=FONT, size=48, color="#111111"))
for tick, text in zip(KEY_TICKS, KEY_TICK_TEXT):
    fig.add_annotation(text=text, **paper(1195 + 52.4 * tick, 2708), showarrow=False,
                       xanchor="center", yanchor="middle",
                       font=dict(family=FONT, size=48, color="#111111"))
fig.add_annotation(text="log<sub>2</sub> (TPM+1)", **paper(1122, 2777), showarrow=False,
                   xanchor="center", yanchor="middle",
                   font=dict(family=FONT, size=62, color="#111111"))

fig.write_html("out.html")
